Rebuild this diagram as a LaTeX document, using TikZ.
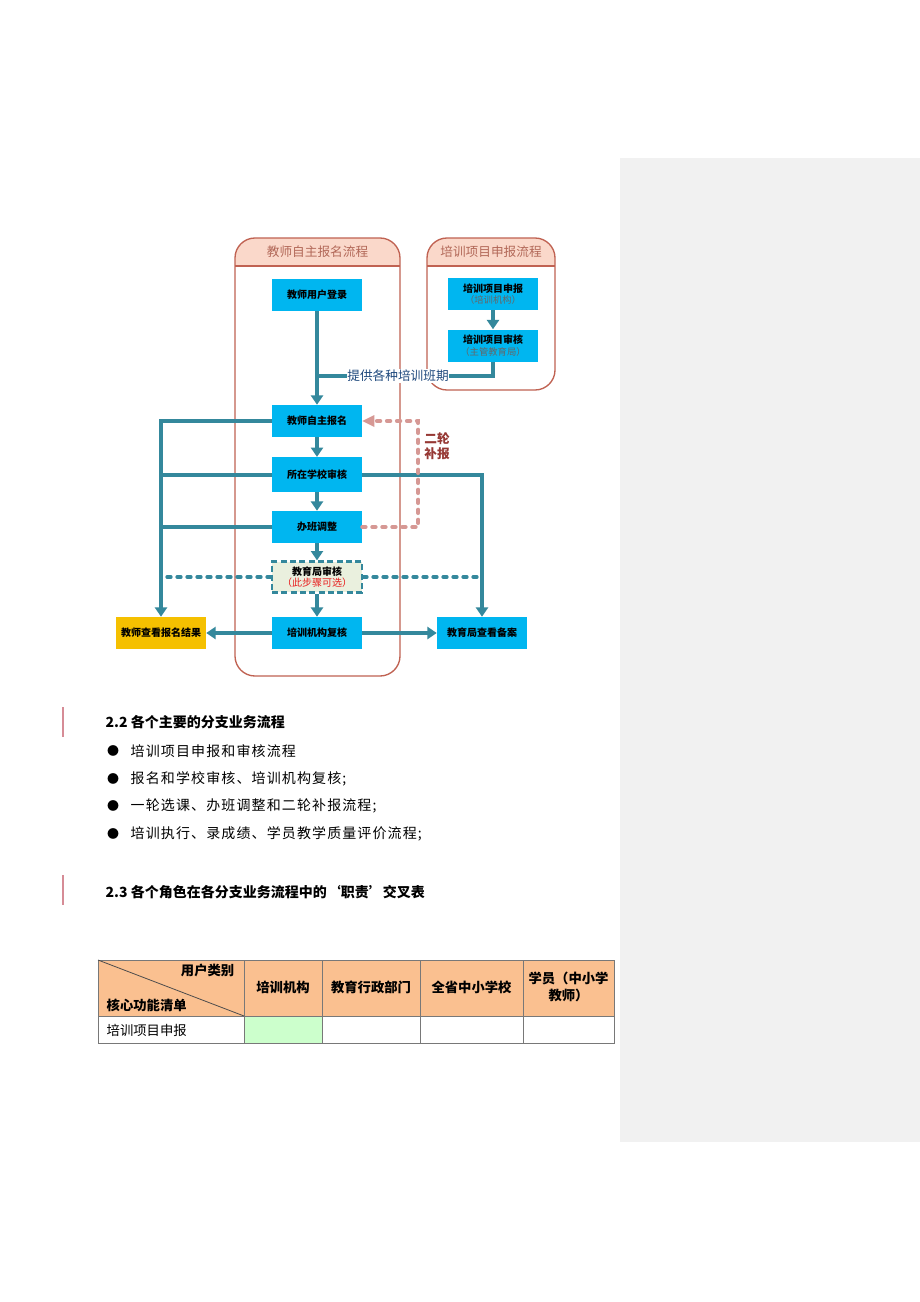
\documentclass[tikz,border=0pt]{standalone}
\usepackage{fontspec}
\setmainfont{Noto Sans CJK SC}
\newfontfamily\spc{Noto Sans CJK SC}[LetterSpace=8]
\usetikzlibrary{arrows.meta}
\definecolor{cyanb}{RGB}{0,182,240}
\definecolor{tealc}{RGB}{52,136,156}
\definecolor{contc}{RGB}{192,98,82}
\definecolor{hdrc}{RGB}{250,216,202}
\definecolor{titc}{RGB}{178,104,88}
\definecolor{pinkc}{RGB}{214,152,148}
\definecolor{redbr}{RGB}{150,56,52}
\definecolor{dblue}{RGB}{31,73,125}
\definecolor{yelc}{RGB}{245,192,0}
\definecolor{optc}{RGB}{234,240,222}
\definecolor{optred}{RGB}{232,30,30}
\definecolor{orc}{RGB}{250,192,144}
\definecolor{grc}{RGB}{204,255,204}
\definecolor{grayp}{RGB}{241,241,241}
\definecolor{pbar}{RGB}{214,140,150}
\definecolor{tabl}{RGB}{120,120,120}
\newcommand{\subtxt}{\fontsize{7}{9}\selectfont\mdseries}
\begin{document}
\begin{tikzpicture}[x=0.75pt,y=-0.75pt,
  cbox/.style={fill=cyanb, draw=none, minimum width=67.5pt, minimum height=24pt, inner sep=1pt, align=center, font=\fontsize{7.5}{9.5}\selectfont\bfseries},
  tl/.style={draw=tealc, line width=3pt},
  arr/.style={tl, -{Triangle[length=7pt,width=9pt]}},
  dotl/.style={draw=tealc, line width=3pt, dash pattern=on 2.5pt off 5pt, line cap=round},
  pinkd/.style={draw=pinkc, line width=3pt, dash pattern=on 2.5pt off 5pt, line cap=round},
  cont/.style={draw=contc, line width=1pt, rounded corners=15pt},
  ctitle/.style={text=titc, font=\fontsize{9.5}{11}\selectfont},
  body/.style={anchor=west, font=\fontsize{10.5}{12}\spc},
  head/.style={anchor=west, font=\fontsize{10.5}{12}\selectfont\bfseries},
  tab/.style={font=\fontsize{10}{13}\selectfont\bfseries, align=center}
]
\useasboundingbox (0,0) rectangle (920,1302);
\fill[white] (0,0) rectangle (920,1302);
\fill[grayp] (620,158) rectangle (920,1142);

% containers
\begin{scope}
  \clip[rounded corners=15pt] (235,238) rectangle (400,676);
  \fill[hdrc] (235,238) rectangle (400,266);
\end{scope}
\draw[contc, line width=1pt] (235,266) -- (400,266);
\draw[cont] (235,238) rectangle (400,676);
\node[ctitle] (t1) at (317.5,252) {教师自主报名流程};

\begin{scope}
  \clip[rounded corners=15pt] (427,238) rectangle (555,390);
  \fill[hdrc] (427,238) rectangle (555,266);
\end{scope}
\draw[contc, line width=1pt] (427,266) -- (555,266);
\draw[cont] (427,238) rectangle (555,390);
\node[ctitle] (t2) at (491,252) {培训项目申报流程};

% boxes
\node[cbox] (login) at (317,294.5) {教师用户登录};
\node[cbox] (apply) at (493,294) {培训项目申报\\[-1pt]{\subtxt\color{black!60}（培训机构）}};
\node[cbox] (review) at (493,345.5) {培训项目审核\\[-1pt]{\subtxt\color{black!60}（主管教育局）}};
\node[cbox] (signup) at (317,421) {教师自主报名};
\node[cbox, minimum height=26pt] (school) at (317,474.5) {所在学校审核};
\node[cbox] (adjust) at (317,527) {办班调整};
\node[cbox, fill=optc, draw=tealc, line width=2pt, dash pattern=on 4.5pt off 2.5pt, minimum height=23pt] (edu) at (317,577) {教育局审核\\[-1pt]{\color{optred}\mdseries（此步骤可选）}};
\node[cbox] (inst) at (317,633) {培训机构复核};
\node[cbox, fill=yelc] (view) at (161,633) {教师查看报名结果};
\node[cbox] (record) at (482,633) {教育局查看备案};

% connectors
\draw[arr] (login) -- (signup);
\draw[arr] (apply) -- (review);
\coordinate (jn) at (317,376);
\draw[tl] (review.south) |- (jn);
\node[fill=white, inner sep=0.5pt, text=dblue, font=\fontsize{9.5}{11}\selectfont] (lbl) at (398,376) {提供各种培训班期};
\draw[arr] (signup) -- (school);
\draw[arr] (school) -- (adjust);
\draw[arr] (adjust) -- (edu);
\draw[arr] (edu) -- (inst);
\draw[arr] (signup.west) -| (view.north);
\draw[tl] (school.west) -- (school.west -| view.north);
\draw[tl] (adjust.west) -- (adjust.west -| view.north);
\draw[arr] (school.east) -| (record.north);
\draw[dotl] (edu.west) -- ([xshift=2pt]edu.west -| view.north);
\draw[dotl] (edu.east) -- ([xshift=-2pt]edu.east -| record.north);
\draw[arr] (inst) -- (view);
\draw[arr] (inst) -- (record);
\draw[pinkd] (adjust.east) -- ++(56,0) |- ([xshift=9pt]signup.east);
\draw[draw=none, fill=pinkc] (signup.east) -- ++(9pt,4.5pt) -- ++(0,-9pt) -- cycle;
\node[text=redbr, align=center, font=\fontsize{9.5}{11}\selectfont\bfseries] (round2) at (437,446) {二轮\\补报};

% text section
\draw[pbar, line width=0.8pt] (63,707) -- (63,737);
\draw[pbar, line width=0.8pt] (63,875) -- (63,905);
\node[head] (h22) at (101,722) {2.2 各个主要的分支业务流程};
\node[font=\fontsize{9}{10}\selectfont] (b1) at (113,751) {●};
\node[font=\fontsize{9}{10}\selectfont] (b2) at (113,779) {●};
\node[font=\fontsize{9}{10}\selectfont] (b3) at (113,806) {●};
\node[font=\fontsize{9}{10}\selectfont] (b4) at (113,834) {●};
\node[body] (l1) at (126,751) {培训项目申报和审核流程};
\node[body] (l2) at (126,779) {报名和学校审核、培训机构复核;};
\node[body] (l3) at (126,806) {一轮选课、办班调整和二轮补报流程;};
\node[body] (l4) at (126,834) {培训执行、录成绩、学员教学质量评价流程;};
\node[head] (h23) at (101,892) {2.3 各个角色在各分支业务流程中的‘职责’交叉表};

% table
\fill[orc] (98,960) rectangle (614,1016);
\fill[grc] (244,1016) rectangle (322,1043);
\draw[tabl, line width=0.6pt] (98,960) rectangle (614,1043);
\draw[tabl, line width=0.6pt] (98,1016) -- (614,1016);
\foreach \xx in {244,322,420,523} \draw[tabl, line width=0.6pt] (\xx,960) -- (\xx,1043);
\draw[black!70, line width=0.6pt] (98,960) -- (244,1016);
\node[tab, anchor=east] (c0a) at (239,970) {用户类别};
\node[tab, anchor=west] (c0b) at (102,1005) {核心功能清单};
\node[tab] (c1) at (283,987) {培训机构};
\node[tab] (c2) at (371,987) {教育行政部门};
\node[tab] (c3) at (471.5,987) {全省中小学校};
\node[tab] (c4) at (568.5,987) {学员（中小学\\教师）};
\node[tab, anchor=west, font=\fontsize{10}{13}\selectfont] (r1) at (102,1030) {培训项目申报};
\end{tikzpicture}
\end{document}
